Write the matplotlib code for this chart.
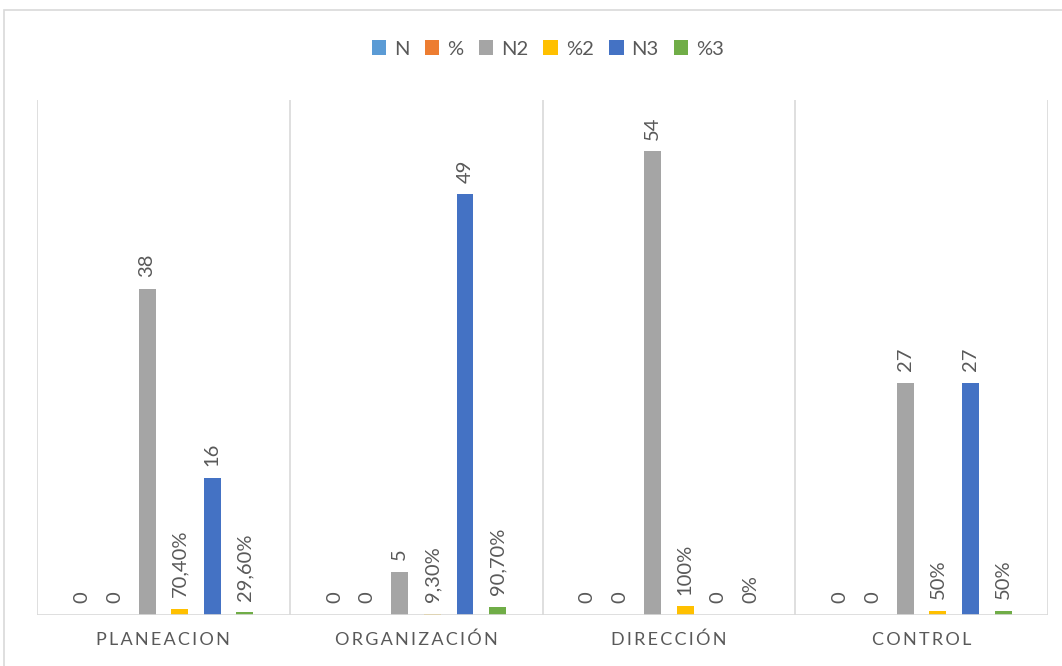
import matplotlib
matplotlib.use("Agg")
import matplotlib.pyplot as plt
from matplotlib.patches import Rectangle
import numpy as np

# Data
categories = ["PLANEACION", "ORGANIZACIÓN", "DIRECCIÓN", "CONTROL"]
series_names = ["N", "%", "N2", "%2", "N3", "%3"]
n_vals = [0, 0, 0, 0]
pct_vals = [0, 0, 0, 0]
n2_vals = [38, 5, 54, 27]
pct2_vals = [0.704, 0.093, 1.0, 0.5]
n3_vals = [16, 49, 0, 27]
pct3_vals = [0.296, 0.907, 0.0, 0.5]

series_values = [n_vals, pct_vals, n2_vals, pct2_vals, n3_vals, pct3_vals]
series_is_pct = [False, False, False, True, False, True]
colors = ["#5B9BD5", "#ED7D31", "#A5A5A5", "#FFC000", "#4472C4", "#70AD47"]

TEXT = "#595959"
GRID = "#D9D9D9"
FONT = ["Lato", "DejaVu Sans"]
plt.rcParams["font.family"] = FONT


def fmt(v, is_pct):
    if not is_pct:
        return f"{v:g}"
    p = round(v * 100, 2)
    if abs(p - round(p)) < 1e-9:
        return f"{int(round(p))}%"
    return f"{p:.2f}".replace(".", ",") + "%"


fig = plt.figure(figsize=(10.62, 6.66), dpi=100)
ax = fig.add_axes([37 / 1062, 1 - 615 / 666, (1048 - 37) / 1062, (615 - 100) / 666])

x = np.arange(len(categories))
slot = 0.129
width = 0.067
handles = []
for i, (name, vals, col, is_pct) in enumerate(zip(series_names, series_values, colors, series_is_pct)):
    pos = x + (i - 2.5) * slot
    bars = ax.bar(pos, vals, width=width, color=col, label=name, zorder=3)
    handles.append(bars)
    for b, v in zip(bars, vals):
        ax.annotate(fmt(v, is_pct), xy=(b.get_x() + b.get_width() / 2, b.get_height()),
                    xytext=(0, 8.5), textcoords="offset points", rotation=90,
                    ha="center", va="bottom", fontsize=14.5, color=TEXT)

ax.set_xlim(-0.5, len(categories) - 0.5)
ax.set_ylim(0, 60)

# category separators and baseline
for b in np.arange(-0.5, len(categories) + 0.5, 1.0):
    ax.axvline(b, color=GRID, lw=1.2, zorder=1)
ax.axhline(0, color=GRID, lw=1.2, zorder=4)

for s in ax.spines.values():
    s.set_visible(False)
ax.set_yticks([])
ax.set_xticks(x)
ax.set_xticklabels(["\u2009".join(c) for c in categories], fontsize=13, color=TEXT)
ax.tick_params(axis="x", length=0, pad=12)

leg = fig.legend(handles=handles, labels=series_names, loc="center",
                 bbox_to_anchor=(548 / 1062, 1 - 49 / 666), ncol=6, frameon=False,
                 fontsize=14.5, handlelength=0.72, handleheight=0.72, handletextpad=0.4,
                 columnspacing=0.75, labelcolor=TEXT)

# outer chart border
fig.patches.append(Rectangle((4 / 1062, -0.05), 1.2, 1 - 10 / 666 + 0.05,
                             transform=fig.transFigure, fill=False,
                             edgecolor=GRID, lw=1.2, clip_on=False))

fig.savefig("out.png", dpi=100, facecolor="white")
